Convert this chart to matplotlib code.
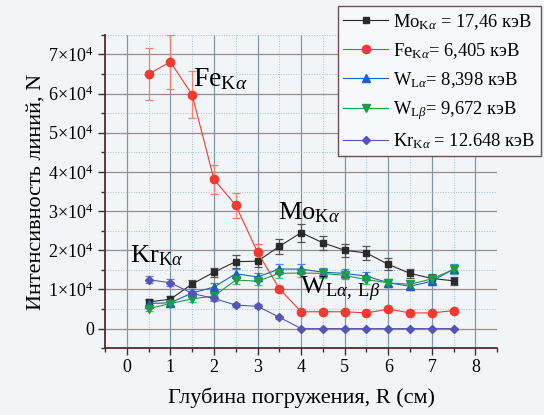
import numpy as np
import matplotlib
matplotlib.use("Agg")
import matplotlib.pyplot as plt
from matplotlib.ticker import MultipleLocator

SERIF = 'Liberation Serif'
plt.rcParams['font.family'] = [SERIF, 'DejaVu Serif']
plt.rcParams['mathtext.fontset'] = 'custom'
plt.rcParams['mathtext.rm'] = SERIF
plt.rcParams['mathtext.it'] = SERIF + ':italic'
plt.rcParams['mathtext.bf'] = SERIF + ':bold'

# глубина погружения, см
depth = [0.5, 1.0, 1.5, 2.0, 2.5, 3.0, 3.5, 4.0, 4.5, 5.0, 5.5, 6.0, 6.5, 7.0, 7.5]

mo_ka = [6800, 7500, 11400, 14400, 17100, 17200, 21000, 24500, 21900, 20000,
         19300, 16400, 14100, 12800, 12200]
mo_err = [800, 800, 900, 1200, 1600, 1500, 2000, 2300, 1800, 1700,
          1700, 1500, 1200, 1100, 1100]

fe_ka = [65000, 68100, 59700, 38100, 31500, 19500, 10200, 4300, 4300, 4300,
         4000, 5000, 4000, 4000, 4600]
fe_err = [6600, 6900, 6000, 3700, 3200, 2000, 800, 500, 500, 500,
          500, 500, 500, 500, 500]

w_la = [6400, 6600, 9100, 10600, 14000, 13200, 15200, 15200, 14400, 14100,
        13400, 11700, 10800, 12100, 15200]
w_la_err = [800, 800, 900, 1000, 1200, 1100, 1200, 1200, 1100, 1100,
            1000, 1000, 900, 1000, 1200]

w_lb = [5100, 6400, 7600, 8300, 12400, 12100, 14100, 14200, 14100, 13600,
        12500, 11700, 11300, 12700, 15100]
w_lb_err = [700, 700, 800, 900, 1100, 1000, 1100, 1100, 1100, 1000,
            1000, 900, 900, 1000, 1100]

kr_ka = [12500, 11700, 9000, 7700, 6000, 5700, 2900, 0, 0, 0,
         0, 0, 0, 0, 0]
kr_err = [900, 900, 700, 600, 500, 500, 400, 200, 200, 200,
          200, 200, 200, 200, 200]

y_ticks = [0, 10000, 20000, 30000, 40000, 50000, 60000, 70000]
y_labels = ['0'] + ['%d\u00d710$^{4}$' % k for k in range(1, 8)]
x_ticks = [0, 1, 2, 3, 4, 5, 6, 7, 8]

bg = '#f2f5f8'
spine_col = '#5a2a2a'

fig = plt.figure(figsize=(5.44, 4.15), dpi=100, facecolor=bg)
ax = fig.add_axes([0.193, 0.161, 0.721, 0.755], facecolor=bg)

series = [
    (mo_ka, mo_err, 's', '#2a2a2a', '#555555', 5,
     r'Mo$_{\mathrm{K}\alpha}$ = 17,46 кэВ'),
    (fe_ka, fe_err, 'o', '#f23a30', '#f08070', 6,
     r'Fe$_{\mathrm{K}\alpha}$= 6,405 кэВ'),
    (w_la, w_la_err, '^', '#1f5fc0', '#4a8ad8', 6,
     r'W$_{\mathrm{L}\alpha}$= 8,398 кэВ'),
    (w_lb, w_lb_err, 'v', '#1a9e4a', '#50c070', 6,
     r'W$_{\mathrm{L}\beta}$= 9,672 кэВ'),
    (kr_ka, kr_err, 'D', '#5555b5', '#7a7ad0', 4.5,
     r'Kr$_{\mathrm{K}\alpha}$ = 12.648 кэВ'),
]

for vals, err, mk, col, ecol, ms, lab in series:
    ax.errorbar(depth, vals, yerr=err, fmt='none', ecolor=ecol, elinewidth=0.9,
                capsize=3, capthick=0.9, zorder=2)
    ax.plot(depth, vals, marker=mk, color=col, markersize=ms, linewidth=0.8,
            label=lab, zorder=3)

ax.set_xlim(-0.5, 8.5)
ax.set_ylim(-5000, 75000)
ax.set_xticks(x_ticks)
ax.set_xticklabels([str(v) for v in x_ticks], family=SERIF)
ax.xaxis.set_minor_locator(MultipleLocator(0.5))
ax.set_yticks(y_ticks)
ax.set_yticklabels(y_labels, family=SERIF)
ax.yaxis.set_minor_locator(MultipleLocator(5000))

ax.grid(which='major', axis='x', color='#7f98a8', linewidth=0.9)
ax.grid(which='major', axis='y', color='#9a8c8c', linewidth=0.9)
ax.grid(which='minor', color='#a8c0d0', linewidth=0.7, linestyle=':')
ax.set_axisbelow(True)

for s in ['top', 'right']:
    ax.spines[s].set_visible(False)
for s in ['left', 'bottom']:
    ax.spines[s].set_color(spine_col)
    ax.spines[s].set_linewidth(1.3)

ax.tick_params(which='major', direction='out', length=5, width=1, color='#333333',
               labelsize=13, pad=3)
ax.tick_params(which='minor', direction='out', length=3, width=1, color='#333333')

ax.set_xlabel('Глубина погружения, R (см)', fontsize=16, labelpad=8, family=SERIF)
ax.set_ylabel('Интенсивность линий, N', fontsize=16, labelpad=2, family=SERIF)

ax.text(1.52, 61900, r'Fe$_{\mathrm{K}\alpha}$', fontsize=20, family=SERIF)
ax.text(3.47, 27900, r'Mo$_{\mathrm{K}\alpha}$', fontsize=19, family=SERIF)
ax.text(0.07, 16900, r'Kr$_{\mathrm{K}\alpha}$', fontsize=19, family=SERIF)
ax.text(3.98, 8700, r'W$_{\mathrm{L}\alpha,\ \mathrm{L}\beta}$', fontsize=19,
        family=SERIF)

leg = fig.legend(loc='upper left', bbox_to_anchor=(0.621, 0.985),
                 prop={'family': SERIF, 'size': 13.3},
                 fancybox=False, framealpha=1, facecolor='#f7f8fa',
                 edgecolor='#6a5050', handlelength=2.4, labelspacing=0.5,
                 borderpad=0.3, handletextpad=0.3, borderaxespad=0)
leg.get_frame().set_linewidth(1.0)

fig.savefig('out.png', dpi=100, facecolor=bg)
